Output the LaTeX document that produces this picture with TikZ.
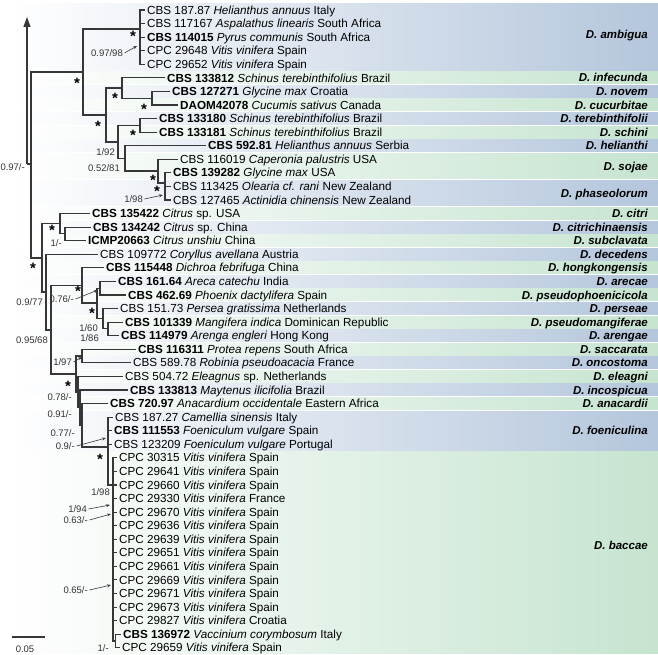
\documentclass[tikz,border=0pt]{standalone}
\usepackage{fontspec}
\setmainfont{Liberation Sans}
\usetikzlibrary{arrows.meta}
\definecolor{bandblue}{RGB}{180,198,220}
\definecolor{bandgreen}{RGB}{198,228,208}
\definecolor{branch}{RGB}{55,55,55}

\begin{document}
\begin{tikzpicture}[x=1pt, y=-1pt,
    br/.style={draw=branch, line width=1.1pt},
    zl/.style={draw=branch, line width=2.4pt},
    tip/.style={anchor=west, inner xsep=2pt, inner ysep=0pt, text height=8.3pt, text depth=0pt, font=\fontsize{11.7}{13}\selectfont},
    spp/.style={anchor=east, inner sep=0pt, text height=8.2pt, text depth=0pt, font=\fontsize{11.5}{13}\selectfont\bfseries\itshape},
    bs/.style={anchor=east, inner sep=0pt, text height=7pt, text depth=0pt, text=black!80, font=\fontsize{9.5}{10}\selectfont},
    pp/.style={inner sep=0pt, yshift=-3pt, font=\fontsize{15}{15}\selectfont\bfseries},
    ptr/.style={draw=branch, line width=0.6pt, -{Stealth[length=4pt,width=3pt]}}
]
\useasboundingbox (0,0) rectangle (658,655);

% species bands
\foreach \a/\b/\ly/\nm [count=\k] in {1/5/34/ambigua, 6/6/77.9/infecunda, 7/7/91.4/novem,
    8/8/105.0/cucurbitae, 9/9/118.6/terebinthifolii, 10/10/132.1/schini, 11/11/145.7/helianthi,
    12/13/166.0/sojae, 14/15/193.2/phaseolorum, 16/16/213.6/citri, 17/17/227.1/citrichinaensis,
    18/18/240.7/subclavata, 19/19/254.3/decedens, 20/20/267.8/hongkongensis, 21/21/281.4/arecae,
    22/22/295.0/pseudophoenicicola, 23/23/308.5/perseae, 24/24/322.1/pseudomangiferae,
    25/25/335.7/arengae, 26/26/349.3/saccarata, 27/27/362.8/oncostoma, 28/28/376.4/eleagni,
    29/29/390.0/incospicua, 30/30/403.5/anacardii, 31/33/430.7/foeniculina, 34/48/545/baccae} {
  \ifodd\k\relax\def\bc{bandblue}\else\def\bc{bandgreen}\fi
  \shade[left color=white, right color=\bc] (10,{10+(\a-1)*13.57-6}) rectangle (658,{10+(\b-1)*13.57+6});
  \node[spp] (s\k) at (648,\ly) {D. \nm};
}

% tips
\node[tip] (t1) at (145,10.0) {CBS 187.87 \textit{Helianthus annuus} Italy};
\node[tip] (t2) at (145,23.6) {CBS 117167 \textit{Aspalathus linearis} South Africa};
\node[tip] (t3) at (145,37.1) {\textbf{CBS 114015} \textit{Pyrus communis} South Africa};
\node[tip] (t4) at (145,50.7) {CPC 29648 \textit{Vitis vinifera} Spain};
\node[tip] (t5) at (145,64.3) {CPC 29652 \textit{Vitis vinifera} Spain};
\node[tip] (t6) at (165,77.9) {\textbf{CBS 133812} \textit{Schinus terebinthifolius} Brazil};
\node[tip] (t7) at (170,91.4) {\textbf{CBS 127271} \textit{Glycine max} Croatia};
\node[tip] (t8) at (178,105.0) {\textbf{DAOM42078} \textit{Cucumis sativus} Canada};
\node[tip] (t9) at (157,118.6) {\textbf{CBS 133180} \textit{Schinus terebinthifolius} Brazil};
\node[tip] (t10) at (157,132.1) {\textbf{CBS 133181} \textit{Schinus terebinthifolius} Brazil};
\node[tip] (t11) at (206,145.7) {\textbf{CBS 592.81} \textit{Helianthus annuus} Serbia};
\node[tip] (t12) at (178,159.3) {CBS 116019 \textit{Caperonia palustris} USA};
\node[tip] (t13) at (171,172.8) {\textbf{CBS 139282} \textit{Glycine max} USA};
\node[tip] (t14) at (171,186.4) {CBS 113425 \textit{Olearia cf. rani} New Zealand};
\node[tip] (t15) at (171,200.0) {CBS 127465 \textit{Actinidia chinensis} New Zealand};
\node[tip] (t16) at (90,213.6) {\textbf{CBS 135422} \textit{Citrus} sp. USA};
\node[tip] (t17) at (91,227.1) {\textbf{CBS 134242} \textit{Citrus} sp. China};
\node[tip] (t18) at (86,240.7) {\textbf{ICMP20663} \textit{Citrus unshiu} China};
\node[tip] (t19) at (98,254.3) {CBS 109772 \textit{Coryllus avellana} Austria};
\node[tip] (t20) at (104,267.8) {\textbf{CBS 115448} \textit{Dichroa febrifuga} China};
\node[tip] (t21) at (116,281.4) {\textbf{CBS 161.64} \textit{Areca catechu} India};
\node[tip] (t22) at (126,295.0) {\textbf{CBS 462.69} \textit{Phoenix dactylifera} Spain};
\node[tip] (t23) at (118,308.5) {CBS 151.73 \textit{Persea gratissima} Netherlands};
\node[tip] (t24) at (123,322.1) {\textbf{CBS 101339} \textit{Mangifera indica} Dominican Republic};
\node[tip] (t25) at (119,335.7) {\textbf{CBS 114979} \textit{Arenga engleri} Hong Kong};
\node[tip] (t26) at (136,349.3) {\textbf{CBS 116311} \textit{Protea repens} South Africa};
\node[tip] (t27) at (131,362.8) {CBS 589.78 \textit{Robinia pseudoacacia} France};
\node[tip] (t28) at (123,376.4) {CBS 504.72 \textit{Eleagnus} sp. Netherlands};
\node[tip] (t29) at (128,390.0) {\textbf{CBS 133813} \textit{Maytenus ilicifolia} Brazil};
\node[tip] (t30) at (108,403.5) {\textbf{CBS 720.97} \textit{Anacardium occidentale} Eastern Africa};
\node[tip] (t31) at (113,417.1) {CBS 187.27 \textit{Camellia sinensis} Italy};
\node[tip] (t32) at (112,430.7) {\textbf{CBS 111553} \textit{Foeniculum vulgare} Spain};
\node[tip] (t33) at (112,444.2) {CBS 123209 \textit{Foeniculum vulgare} Portugal};
\foreach \r/\n/\c in {34/30315/Spain, 35/29641/Spain, 36/29660/Spain, 37/29330/France,
    38/29670/Spain, 39/29636/Spain, 40/29639/Spain, 41/29651/Spain, 42/29661/Spain,
    43/29669/Spain, 44/29671/Spain, 45/29673/Spain, 46/29827/Croatia}
  \node[tip] (t\r) at (117,{10+(\r-1)*13.57}) {CPC \n\ \textit{Vitis vinifera} \c};
\node[tip] (t47) at (121,634.2) {\textbf{CBS 136972} \textit{Vaccinium corymbosum} Italy};
\node[tip] (t48) at (120,647.8) {CPC 29659 \textit{Vitis vinifera} Spain};

% internal nodes
\coordinate (og) at (27,17);
\coordinate (rt) at (27,164);
\coordinate (N0) at (31,164);
\coordinate (N1) at (83,72);
\coordinate (amb) at (140,29);
\coordinate (N2) at (106,115);
\coordinate (B) at (122,88);
\coordinate (C) at (152,98.2);
\coordinate (N3) at (118,142);
\coordinate (T) at (140,125.4);
\coordinate (D) at (125,158.4);
\coordinate (P) at (158,171);
\coordinate (Q) at (165,183);
\coordinate (M) at (42,258);
\coordinate (Ci) at (60,223.7);
\coordinate (Ci2) at (65,233.9);
\coordinate (K) at (46,292);
\coordinate (J) at (51,330);
\coordinate (Ho) at (82,285.4);
\coordinate (Ar) at (97,303);
\coordinate (AP) at (100,288.2);
\coordinate (Pe) at (103,318.7);
\coordinate (Ma) at (108,328.9);
\coordinate (I) at (76,374);
\coordinate (Sa) at (82,356);
\coordinate (I2) at (78,392);
\coordinate (I3) at (80,407.5);
\coordinate (I4) at (82,425);
\coordinate (F) at (108,447);
\coordinate (Bc) at (113,485);
\coordinate (Bx) at (115.5,641);

% branches
\draw[br, -{Triangle[width=7pt,length=10pt]}] (rt) -- (og);
\draw[br] (rt) -- (N0);
\draw[br] (N0) |- (N1);
\draw[br] (N0) |- (M);
\draw[br] (N1) |- (amb);
\draw[br] (N1) |- (N2);
\foreach \t in {t1,t2,t3,t4,t5} \draw[br] (amb) |- (\t.west);
\draw[zl] (amb |- t2.west) -- (amb |- t3.west);
\draw[br] (N2) |- (B);
\draw[br] (N2) |- (N3);
\draw[br] (B) |- (t6.west);
\draw[br] (B) |- (C);
\draw[br] (C) |- (t7.west);
\draw[br] (C) |- (t8.west);
\draw[br] (N3) |- (T);
\draw[br] (N3) |- (D);
\draw[br] (T) |- (t9.west);
\draw[br] (T) |- (t10.west);
\draw[br] (D) |- (t11.west);
\draw[br] (D) |- (P);
\draw[br] (P) |- (t12.west);
\draw[br] (P) |- (Q);
\foreach \t in {t13,t14,t15} \draw[br] (Q) |- (\t.west);
\draw[zl] (Q |- t14.west) -- (Q |- t15.west);
\draw[br] (M) |- (Ci);
\draw[br] (M) |- (K);
\draw[br] (Ci) |- (t16.west);
\draw[br] (Ci) |- (Ci2);
\draw[br] (Ci2) |- (t17.west);
\draw[br] (Ci2) |- (t18.west);
\draw[br] (K) |- (t19.west);
\draw[br] (K) |- (J);
\draw[br] (J) |- (Ho);
\draw[br] (J) |- (I);
\draw[br] (Ho) |- (t20.west);
\draw[br] (Ho) |- (Ar);
\draw[br] (Ar) |- (AP);
\draw[br] (Ar) |- (Pe);
\draw[br] (AP) |- (t21.west);
\draw[br] (AP) |- (t22.west);
\draw[br] (Pe) |- (t23.west);
\draw[br] (Pe) |- (Ma);
\draw[br] (Ma) |- (t24.west);
\draw[br] (Ma) |- (t25.west);
\draw[br] (I) |- (Sa);
\draw[br] (I) |- (I2);
\draw[br] (Sa) |- (t26.west);
\draw[br] (Sa) |- (t27.west);
\draw[br] (I2) |- (t28.west);
\draw[br] (I2) |- (I3);
\draw[br] (I3) |- (t29.west);
\draw[br] (I3) |- (I4);
\draw[br] (I4) |- (t30.west);
\draw[br] (I4) |- (F);
\foreach \t in {t31,t32,t33} \draw[br] (F) |- (\t.west);
\draw[br] (F) |- (Bc);
\foreach \r in {34,...,46} \draw[br] (Bc) |- (t\r.west);
\draw[zl] (Bc |- t37.west) -- (Bc |- t38.west);
\draw[br] (Bc) |- (Bx);
\draw[br] (Bx) |- (t47.west);
\draw[br] (Bx) |- (t48.west);

% support values
\node[pp] (p1) at (133,33) {*};
\node[pp] (p2) at (77,80) {*};
\node[pp] (p3) at (98,123) {*};
\node[pp] (p4) at (115,95) {*};
\node[pp] (p5) at (144,106) {*};
\node[pp] (p6) at (133,132) {*};
\node[pp] (p7) at (153,177) {*};
\node[pp] (p8) at (157,188) {*};
\node[pp] (p9) at (52,227) {*};
\node[pp] (p10) at (33,265) {*};
\node[pp] (p11) at (78,288) {*};
\node[pp] (p12) at (92,310) {*};
\node[pp] (p13) at (68,383) {*};
\node[pp] (p14) at (100,456) {*};

\node[bs] (l1) at (123,53) {0.97/98};
\node[bs] (l2) at (25,167) {0.97/-};
\node[bs] (l3) at (115,152) {1/92};
\node[bs] (l4) at (120,168) {0.52/81};
\node[bs] (l5) at (143,199) {1/98};
\node[bs] (l6) at (62,243) {1/-};
\node[bs] (l7) at (43,302) {0.9/77};
\node[bs] (l8) at (74,299) {0.76/-};
\node[bs] (l9) at (98,328) {1/60};
\node[bs] (l10) at (99,338) {1/86};
\node[bs] (l11) at (48,340) {0.95/68};
\node[bs] (l12) at (72,362) {1/97};
\node[bs] (l13) at (72,397) {0.78/-};
\node[bs] (l14) at (72,414) {0.91/-};
\node[bs] (l15) at (75,433) {0.77/-};
\node[bs] (l16) at (75,446) {0.9/-};
\node[bs] (l17) at (110,492) {1/98};
\node[bs] (l18) at (87,509) {1/94};
\node[bs] (l19) at (88,520) {0.63/-};
\node[bs] (l20) at (88,590) {0.65/-};
\node[bs] (l21) at (109,648) {1/-};

\coordinate (a1) at (137,46);
\coordinate (a2) at (163,195);
\coordinate (a3) at (98,290);
\coordinate (a4) at (82,357);
\coordinate (a5) at (106,438);
\coordinate (a6) at (110,505);
\coordinate (a7) at (111,514);
\coordinate (a8) at (111,585);
\draw[ptr] ([xshift=1.5pt]l1.east) -- (a1);
\draw[ptr] ([xshift=1.5pt]l5.east) -- (a2);
\draw[ptr] ([xshift=1.5pt]l8.east) -- (a3);
\draw[ptr] ([xshift=1.5pt]l12.east) -- (a4);
\draw[ptr] ([xshift=1.5pt]l16.east) -- (a5);
\draw[ptr] ([xshift=1.5pt]l18.east) -- (a6);
\draw[ptr] ([xshift=1.5pt]l19.east) -- (a7);
\draw[ptr] ([xshift=1.5pt]l20.east) -- (a8);

% scale bar
\coordinate (sb1) at (12,637);
\coordinate (sb2) at (45,637);
\draw[br] (sb1) -- (sb2);
\node[bs, anchor=center] (sbl) at (25,649) {0.05};
\end{tikzpicture}
\end{document}
